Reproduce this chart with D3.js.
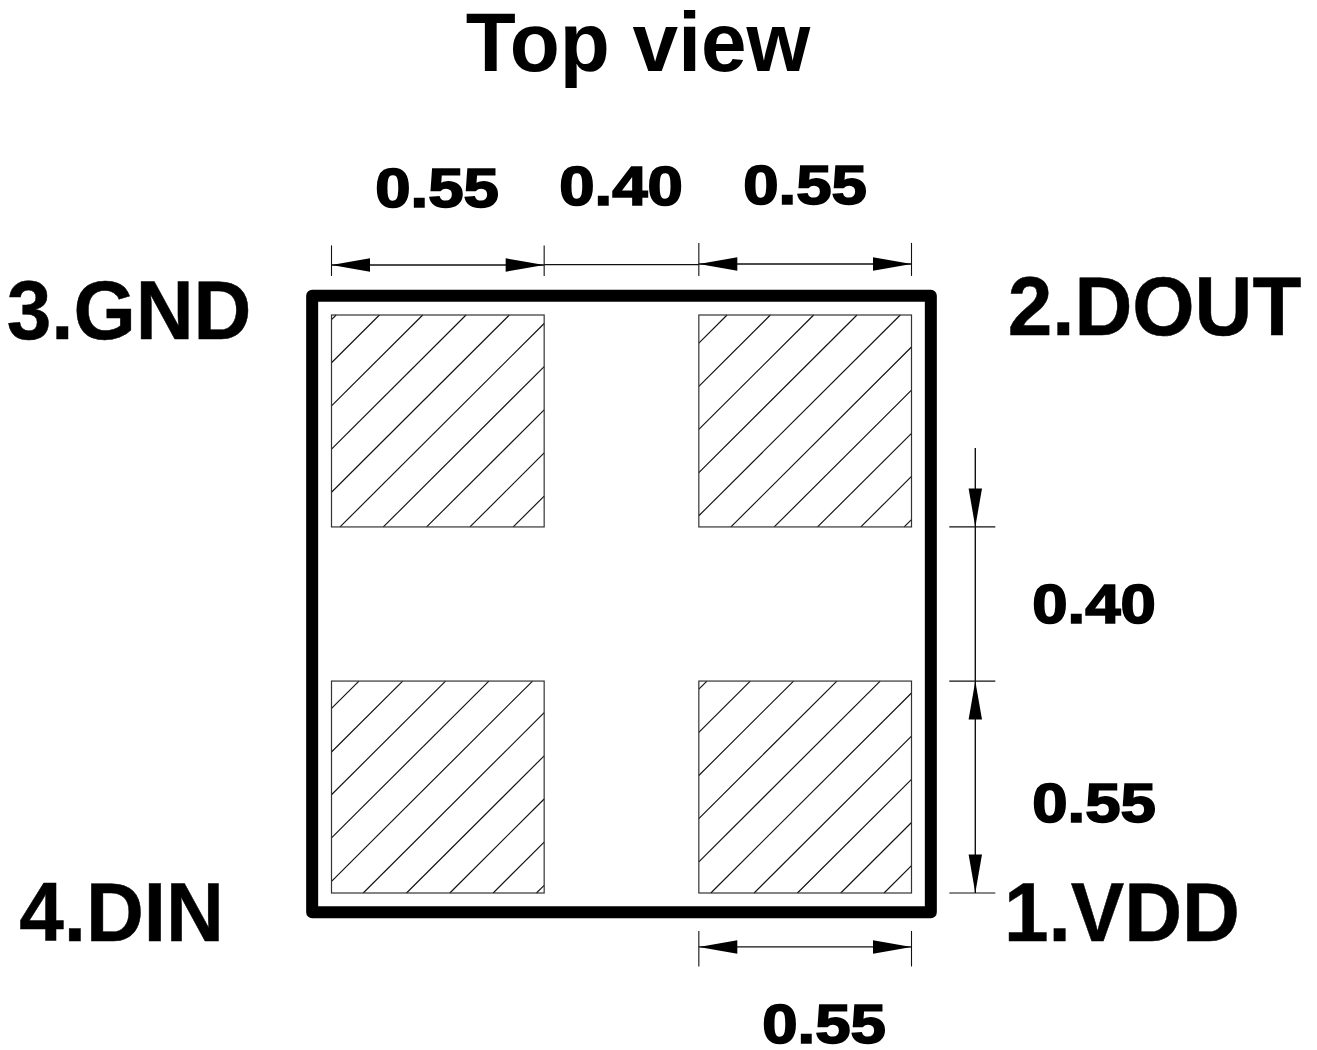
<!DOCTYPE html>
<html><head><meta charset="utf-8">
<script src="https://cdn.jsdelivr.net/npm/d3@7/dist/d3.min.js"></script>
<style>html,body{margin:0;padding:0;background:#fff}svg{display:block}
text{font-family:"Liberation Sans",Arial,sans-serif;font-weight:bold;fill:#000}</style>
</head><body><svg id="c" width="1317" height="1050"></svg>
<script>
// All dimensions in millimetres, origin at the lower-left corner of pad 4.
const titleText = "Top view";
const packageExtent = [-0.05, 1.55];
const padSize = 0.55;
const padNames = ["3.GND", "2.DOUT", "4.DIN", "1.VDD"];
const padLeft = [0, 0.95, 0, 0.95];
const padTop = [1.5, 1.5, 0.55, 0.55];
// hatch intercepts, read along each pad's top edge
const hatchGND = [0.012, 0.124, 0.236, 0.348, 0.460, 0.572, 0.684, 0.796, 0.908, 1.020];
const hatchDOUT = [0.073, 0.185, 0.297, 0.409, 0.521, 0.633, 0.745, 0.857, 0.969, 1.081];
const hatchDIN = [0.071, 0.184, 0.295, 0.407, 0.520, 0.632, 0.744, 0.856, 0.968, 1.080];
const hatchVDD = [0.021, 0.133, 0.245, 0.357, 0.469, 0.581, 0.693, 0.805, 0.917, 1.029];
const hatches = [hatchGND, hatchDOUT, hatchDIN, hatchVDD];
const topDimStart = [0, 0.55, 0.95];
const topDimEnd = [0.55, 0.95, 1.5];
const topDimLabels = ["0.55", "0.40", "0.55"];
const sideDimLabels = ["0.40", "0.55"];
const bottomDimLabels = ["0.55"];

const x = d3.scaleLinear().domain([0, 1.5]).range([331.5, 911.5]);
const y = d3.scaleLinear().domain([0, 1.5]).range([893, 315]);
const svg = d3.select("#c");
const line = d3.line();
const ink = "#111";

function seg(x1, y1, x2, y2, w = 1.1, c = ink) {
  svg.append("line").attr("x1", x1).attr("y1", y1).attr("x2", x2).attr("y2", y2)
    .attr("stroke", c).attr("stroke-width", w);
}
function arrow(tx, ty, dx, dy) {
  // tip at (tx,ty); the base lies along the (dx,dy) unit direction
  const L = 38.5, H = 6.7, px = -dy, py = dx;
  svg.append("path").attr("fill", "#000").attr("d", line([
    [tx, ty],
    [tx + dx * L + px * H, ty + dy * L + py * H],
    [tx + dx * L - px * H, ty + dy * L - py * H]
  ]) + "Z");
}

// package outline
svg.append("rect")
  .attr("x", x(packageExtent[0])).attr("y", y(packageExtent[1]))
  .attr("width", x(packageExtent[1]) - x(packageExtent[0]))
  .attr("height", y(packageExtent[0]) - y(packageExtent[1]))
  .attr("fill", "none").attr("stroke", "#000").attr("stroke-width", 12)
  .attr("stroke-linejoin", "round");

// pads + hatching
padNames.forEach((n, i) => {
  const l = padLeft[i], t = padTop[i], s = padSize;
  hatches[i].forEach(c => {
    const a = c <= s ? [l + c, t] : [l + s, t - (c - s)];
    const b = c <= s ? [l, t - c] : [l + c - s, t - s];
    seg(x(a[0]), y(a[1]), x(b[0]), y(b[1]), 1.15);
  });
  svg.append("rect").attr("x", x(l)).attr("y", y(t))
    .attr("width", x(l + s) - x(l)).attr("height", y(t - s) - y(t))
    .attr("fill", "none").attr("stroke", "#333").attr("stroke-width", 1.2);
});

// top dimensions
const topY = [265, 264.6, 264];
[0, 0.55, 0.95, 1.5].forEach(v => seg(x(v), y(1.63) - (v > 0.9 ? 22 : 19.5), x(v), y(1.63) + 11, 1.1));
topDimStart.forEach((v, i) => {
  const a = x(v), b = x(topDimEnd[i]), yy = topY[i];
  seg(a, yy, b, yy, 1.3);
  if (i !== 1) { arrow(a, yy, 1, 0); arrow(b, yy, -1, 0); }
});

// right-hand dimensions
const rx = x(1.665);
[0, 0.55, 0.95].forEach(v => seg(rx - 26, y(v), rx + 20, y(v), 1.2));
seg(rx, y(1.155), rx, y(0), 1.4);
arrow(rx, y(0.55), 0, 1);
arrow(rx, y(0.95), 0, -1);
arrow(rx, y(0), 0, -1);

// bottom dimension
const by = y(-0.14);
[0.95, 1.5].forEach(v => seg(x(v), by - 16, x(v), by + 19.5, 1.1));
seg(x(0.95), by, x(1.5), by, 1.3);
arrow(x(0.95), by, 1, 0);
arrow(x(1.5), by, -1, 0);

// texts
svg.append("text").attr("transform", "translate(638,70.5) scale(0.976,1)").attr("text-anchor", "middle")
  .attr("font-size", 84).text(titleText);
const nameX = [129, 1154.5, 121.5, 1122];
const nameY = [338.5, 334.5, 940.5, 940.5];
padNames.forEach((n, i) => svg.append("text")
  .attr("transform", `translate(${nameX[i]},${nameY[i]}) scale(0.965,1)`)
  .attr("text-anchor", "middle").attr("font-size", 83).attr("stroke", "#000").attr("stroke-width", 0.5).text(n));

function dimText(t, cx, base) {
  svg.append("text").attr("transform", `translate(${cx},${base}) scale(1.145,1)`)
    .attr("text-anchor", "middle").attr("font-size", 55.5)
    .attr("stroke", "#000").attr("stroke-width", 1.7).text(t);
}
const topLabelX = [437, 621, 805], topLabelY = [206.8, 205.3, 204.3];
topDimLabels.forEach((t, i) => dimText(t, topLabelX[i], topLabelY[i]));
const sideLabelY = [622.8, 821.8];
sideDimLabels.forEach((t, i) => dimText(t, 1094, sideLabelY[i]));
bottomDimLabels.forEach(t => dimText(t, 824, 1043.3));
</script></body></html>
